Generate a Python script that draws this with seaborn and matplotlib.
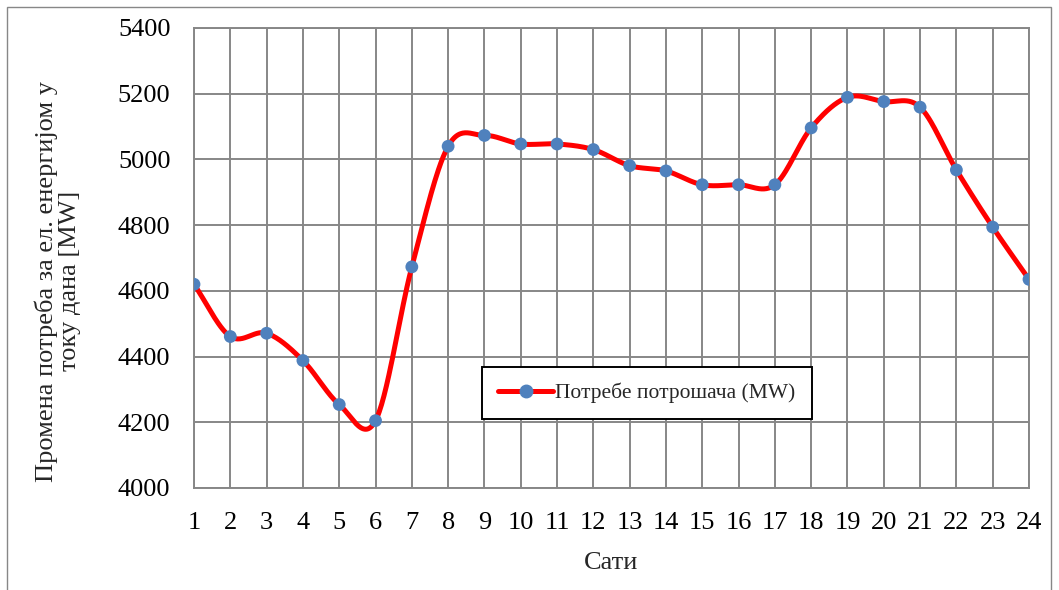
import numpy as np
import pandas as pd
import matplotlib
matplotlib.use("Agg")
import matplotlib.pyplot as plt
import seaborn as sns
from matplotlib.lines import Line2D
from matplotlib.patches import Rectangle

hours = list(range(1, 25))
demand = [4620, 4461, 4471, 4388, 4254, 4205, 4673, 5040, 5073, 5047, 5047, 5030,
          4981, 4965, 4923, 4923, 4923, 5096, 5189, 5176, 5159, 4968, 4794, 4635]
series_name = "Потребе потрошача (MW)"
x_label = "Сати"
y_label = "Промена потреба за ел. енергијом у\nтоку дана [MW]"
y_ticks = [4000, 4200, 4400, 4600, 4800, 5000, 5200, 5400]


def smooth_curve(xs, ys, n=30):
    """Catmull-Rom rendering of the line (Excel 'smoothed line' style)."""
    xs = np.asarray(xs, float)
    ys = np.asarray(ys, float)
    px = np.concatenate([[2 * xs[0] - xs[1]], xs, [2 * xs[-1] - xs[-2]]])
    py = np.concatenate([[2 * ys[0] - ys[1]], ys, [2 * ys[-1] - ys[-2]]])
    ox, oy = [], []
    t = np.linspace(0, 1, n, endpoint=False)
    for i in range(1, len(px) - 2):
        for arr, out in ((px, ox), (py, oy)):
            p0, p1, p2, p3 = arr[i - 1], arr[i], arr[i + 1], arr[i + 2]
            out.extend(0.5 * ((2 * p1) + (-p0 + p2) * t
                              + (2 * p0 - 5 * p1 + 4 * p2 - p3) * t ** 2
                              + (-p0 + 3 * p1 - 3 * p2 + p3) * t ** 3))
    ox.append(xs[-1])
    oy.append(ys[-1])
    return np.array(ox), np.array(oy)


sns.set_theme(style="white")
plt.rcParams['font.family'] = ['Liberation Serif', 'DejaVu Serif']

fig = plt.figure(figsize=(10.59, 5.90), dpi=100)
ax = fig.add_axes([194 / 1059, 1 - 488 / 590, (1029 - 194) / 1059, (488 - 28) / 590])

df = pd.DataFrame({"hour": hours, "demand": demand})
sx, sy = smooth_curve(hours, demand)
ax.plot(sx, sy, color="#FF0000", lw=3.6, solid_capstyle="round", zorder=3)
sns.scatterplot(data=df, x="hour", y="demand", ax=ax, color="#4F81BD", s=85,
                edgecolor="none", zorder=4, legend=False)

ax.set_xlim(1, 24)
ax.set_ylim(4000, 5400)
ax.set_xticks(hours)
ax.set_xticklabels([str(h) for h in hours])
ax.set_yticks(y_ticks)
ax.grid(True, color="#878787", lw=1.4)
ax.set_axisbelow(True)
for s in ax.spines.values():
    s.set_color("#878787")
    s.set_linewidth(1.4)
ax.tick_params(axis="both", length=0, labelsize=19, colors="black")
ax.tick_params(axis="x", pad=17)
ax.tick_params(axis="y", pad=17)
ax.set_xlabel(x_label, fontsize=19, labelpad=13)
ax.set_ylabel(y_label, fontsize=19, linespacing=1.05)
ax.yaxis.set_label_coords((81 - 194) / 835, 0.45)

handle = Line2D([0], [0], color="#FF0000", lw=3.6, marker="o", markersize=9,
                markerfacecolor="#4F81BD", markeredgecolor="#4F81BD")
leg = ax.legend([handle], [series_name], loc="center", bbox_to_anchor=(0.5425, 0.2065),
                fontsize=15.5, frameon=True, fancybox=False, handlelength=2.55,
                borderpad=0.75, handletextpad=0.1, borderaxespad=0)
leg.get_frame().set_edgecolor("black")
leg.get_frame().set_linewidth(1.4)
leg.get_frame().set_facecolor("white")
leg.get_frame().set_alpha(1)

fig.patches.append(Rectangle((7 / 1059, -0.1), (1051 - 7) / 1059, 1.1 - 7 / 590,
                             transform=fig.transFigure, fill=False,
                             edgecolor="#878787", lw=1.0))

fig.savefig("out.png", dpi=100)
